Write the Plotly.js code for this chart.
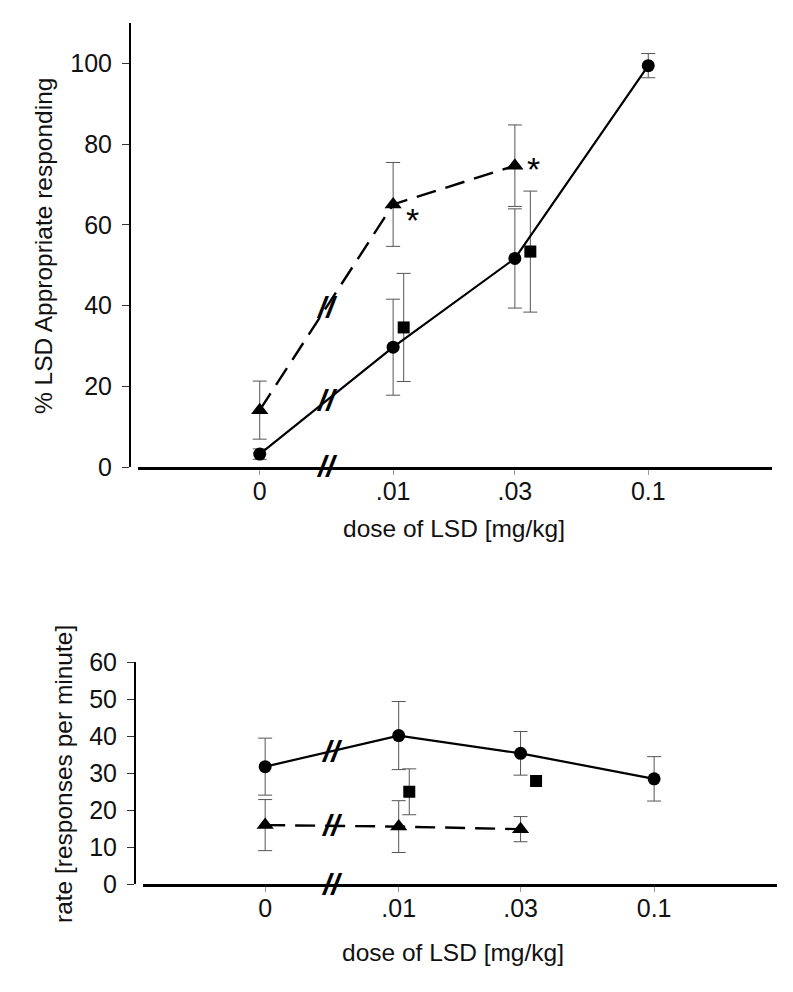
<!DOCTYPE html>
<html>
<head>
<meta charset="utf-8">
<script src="https://cdn.plot.ly/plotly-3.0.1.min.js"></script>
<style>html,body{margin:0;padding:0;background:#fff;}#chart{width:793px;height:992px;}</style>
</head>
<body>
<div id="chart"></div>
<script>
// ---- data ----
var doseLabels = ["0", ".01", ".03", "0.1"];
var doseValues = [0.003, 0.01, 0.03, 0.1];     // "0" (vehicle) plotted left of the axis break
var squareDoses = [0.011, 0.0345];               // square series, slightly offset doses

// Top panel: % LSD appropriate responding
var pctCircle = [3.2, 29.7, 51.7, 99.5];
var pctCircleErr = [1.3, 11.9, 12.3, 3.0];
var pctTriangle = [14.1, 65.1, 74.7];
var pctTriangleErr = [7.2, 10.4, 10.1];
var pctSquare = [34.6, 53.4];
var pctSquareErr = [13.4, 15.0];

// Bottom panel: rate (responses per minute)
var rateCircle = [31.8, 40.2, 35.4, 28.5];
var rateCircleErr = [7.7, 9.2, 5.9, 6.0];
var rateTriangle = [16.0, 15.6, 14.9];
var rateTriangleErr = [6.9, 7.0, 3.4];
var rateSquare = [25.0, 27.9];
var rateSquareErr = [6.2, NaN];

var xTitle = "dose of LSD [mg/kg]";
var yTitleTop = "% LSD Appropriate responding";
var yTitleBottom = "rate [responses per minute]";

// ---- styling ----
var FONT = "Liberation Sans, Arial, sans-serif";
var W = 793, H = 992;
function px(x){ return x / W; }
function py(y){ return 1 - y / H; }
var errStyle = {type: "data", visible: true, color: "#555", thickness: 1, width: 7};

function err(arr){ return Object.assign({}, errStyle, {array: arr}); }

function circleTrace(y, e, xa, ya){
  return {x: doseValues, y: y, xaxis: xa, yaxis: ya, type: "scatter", mode: "lines+markers",
    line: {color: "#000", width: 2.2}, marker: {symbol: "circle", size: 13, color: "#000"},
    error_y: err(e), showlegend: false, hoverinfo: "x+y"};
}
function triTrace(y, e, xa, ya){
  return {x: doseValues.slice(0, y.length), y: y, xaxis: xa, yaxis: ya, type: "scatter", mode: "lines+markers",
    line: {color: "#000", width: 2.4, dash: "20px,10px"}, marker: {symbol: "triangle-up", size: 15, color: "#000"},
    error_y: err(e), showlegend: false};
}
function sqTrace(y, e, xa, ya){
  return {x: squareDoses, y: y, xaxis: xa, yaxis: ya, type: "scatter", mode: "markers",
    marker: {symbol: "square", size: 12, color: "#000"},
    error_y: err(e), showlegend: false};
}

var data = [
  sqTrace(pctSquare, pctSquareErr, "x", "y"),
  triTrace(pctTriangle, pctTriangleErr, "x", "y"),
  circleTrace(pctCircle, pctCircleErr, "x", "y"),
  sqTrace(rateSquare, rateSquareErr, "x2", "y2"),
  triTrace(rateTriangle, rateTriangleErr, "x2", "y2"),
  circleTrace(rateCircle, rateCircleErr, "x2", "y2")
];

function xAxis(domain, anchor, range){
  return {domain: domain, anchor: anchor, type: "log", range: range,
    tickmode: "array", tickvals: doseValues, ticktext: doseLabels,
    showline: true, linecolor: "#000", linewidth: 2.5, showgrid: false, zeroline: false,
    ticks: "outside", ticklen: 5, tickwidth: 1, tickcolor: "#999",
    tickfont: {family: FONT, size: 25, color: "#111"}, ticklabelstandoff: -5};
}
function yAxis(domain, pos, range, dtick){
  return {domain: domain, anchor: "free", position: pos, range: range, dtick: dtick,
    showline: true, linecolor: "#000", linewidth: 2, showgrid: false, zeroline: false,
    ticks: "outside", ticklen: 7, tickwidth: 1, tickcolor: "#333",
    tickfont: {family: FONT, size: 25, color: "#111"}, ticklabelstandoff: 5};
}

var midX = (Math.log10(doseValues[0]) + Math.log10(doseValues[1])) / 2;
function brk(xa, ya, y){
  return {xref: xa, yref: ya, x: midX, y: y, text: "//", showarrow: false,
    font: {family: FONT, size: 30, color: "#000", weight: "bold", style: "italic"}, xanchor: "center", yanchor: "middle"};
}
function star(xa, ya, i, yv, dx, dy){
  return {xref: xa, yref: ya, x: Math.log10(doseValues[i]), y: yv, text: "*", showarrow: false,
    font: {family: FONT, size: 34, color: "#000"}, xshift: dx, yshift: dy, xanchor: "center", yanchor: "middle"};
}
function title(text, x, y, rot){
  return {xref: "paper", yref: "paper", x: px(x), y: py(y), text: text, showarrow: false, textangle: rot,
    font: {family: FONT, size: 24.5, color: "#111"}, xanchor: "center", yanchor: "middle"};
}

var layout = {
  width: W, height: H, margin: {l: 0, r: 0, t: 0, b: 0},
  paper_bgcolor: "#fff", plot_bgcolor: "rgba(0,0,0,0)",
  showlegend: false,
  xaxis: xAxis([px(138), px(772)], "y", [-3.0, -0.515]),
  yaxis: yAxis([py(467), py(23.3)], px(130), [0, 110], 20),
  xaxis2: xAxis([px(143.3), px(776.7)], "y2", [-3.0, -0.52]),
  yaxis2: yAxis([py(884.3), py(662.3)], px(135), [0, 60], 10),
  annotations: [
    brk("x", "y", 0),
    brk("x", "y", (pctCircle[0] + pctCircle[1]) / 2),
    brk("x", "y", (pctTriangle[0] + pctTriangle[1]) / 2),
    brk("x2", "y2", 0),
    brk("x2", "y2", (rateCircle[0] + rateCircle[1]) / 2),
    brk("x2", "y2", (rateTriangle[0] + rateTriangle[1]) / 2),
    star("x", "y", 1, pctTriangle[1], 19, -16),
    star("x", "y", 2, pctTriangle[2], 19, -3),
    title(xTitle, 454, 528, 0),
    title(xTitle, 453, 952, 0),
    title(yTitleTop, 43, 246, -90),
    title(yTitleBottom, 63, 774, -90)
  ]
};

Plotly.newPlot("chart", data, layout, {staticPlot: true, displayModeBar: false});
</script>
</body>
</html>
